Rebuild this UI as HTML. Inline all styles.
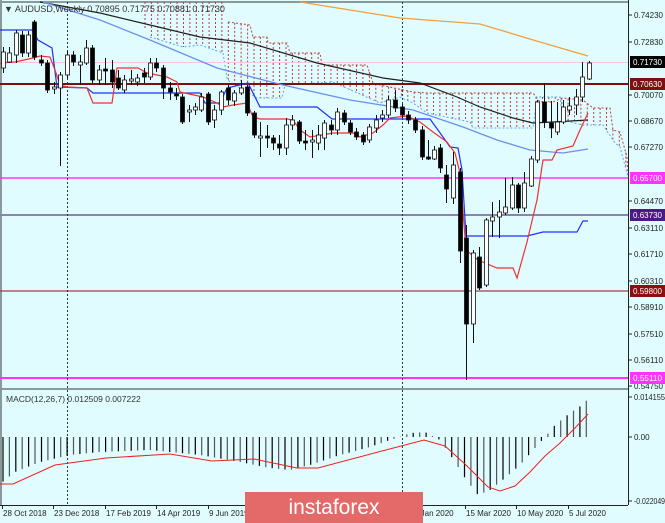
<!DOCTYPE html>
<html><head><meta charset="utf-8"><style>
html,body{margin:0;padding:0;background:#e1fcfe;}
body{width:665px;height:523px;overflow:hidden;position:relative;font-family:"Liberation Sans",sans-serif;}
svg{position:absolute;left:0;top:0;}
</style></head><body>
<svg id="s" width="665" height="523" xmlns="http://www.w3.org/2000/svg" font-family="Liberation Sans, sans-serif">
<rect width="665" height="523" fill="#e1fcfe"/>
<g id="g"></g>
</svg>
<script>
var NS="http://www.w3.org/2000/svg",G=document.getElementById("g");
function el(t,a,txt){var e=document.createElementNS(NS,t);for(var k in a)e.setAttribute(k,a[k]);if(txt!=null)e.textContent=txt;G.appendChild(e);return e;}
function pl(pts,c,w,d){var a={points:pts.map(function(p){return p.join(",")}).join(" "),fill:"none",stroke:c,"stroke-width":w||1};if(d)a["stroke-dasharray"]=d;return el("polyline",a);}
function interp(pts,x){if(x<=pts[0][0])return pts[0][1];for(var i=1;i<pts.length;i++){if(x<=pts[i][0]){var a=pts[i-1],b=pts[i];return a[1]+(b[1]-a[1])*(x-a[0])/(b[0]-a[0]);}}return pts[pts.length-1][1];}
el("line",{x1:0,y1:2,x2:628,y2:2,stroke:"#8a9a9a","stroke-width":2});
el("line",{x1:1,y1:0,x2:1,y2:505,stroke:"#8a9a9a","stroke-width":2});
el("line",{x1:628.5,y1:0,x2:628.5,y2:505,stroke:"#222"});
el("line",{x1:0,y1:389,x2:628,y2:389,stroke:"#8a9a9a","stroke-width":2});
el("line",{x1:0,y1:505.5,x2:628,y2:505.5,stroke:"#222"});
var spanB=[[0,-5],[225,-5],[228,22],[250,25],[253,37],[267,37],[268,43],[287,43],[290,53],[320,53],[322,65],[367,65],[373,83],[380,85],[413,92],[427,93],[533,93],[540,102],[553,102],[562,98],[583,100],[593,108],[610,108],[613,130],[620,132],[627,157],[628,175]];
var spanA=[[120,-5],[150,37],[183,47],[200,45],[223,53],[227,78],[230,82],[257,98],[282,98],[285,85],[333,82],[380,103],[400,97],[413,103],[427,113],[470,122],[473,128],[533,128],[537,97],[560,97],[563,120],[582,125],[603,125],[615,143],[620,147],[627,173],[628,178]];
for(var x=145;x<628;x+=6.41){var a=interp(spanA,x),b=interp(spanB,x);var t=Math.max(2,Math.min(a,b)),bt=Math.max(a,b);if(bt>t+2)el("line",{x1:x.toFixed(1),y1:t,x2:x.toFixed(1),y2:bt,stroke:"#b84040","stroke-width":1,"stroke-dasharray":"2,2"});}
pl(spanB.filter(function(p){return p[1]>2}),"#b84040",1,"2,2");
pl(spanA.filter(function(p){return p[1]>2}),"#5aa7f0",1,"2,2");
el("line",{x1:0,y1:62.5,x2:628,y2:62.5,stroke:"#f4c8d8","stroke-width":1});
el("line",{x1:0,y1:84,x2:628,y2:84,stroke:"#7a1010","stroke-width":2});
el("line",{x1:0,y1:178,x2:628,y2:178,stroke:"#ff33ff","stroke-width":1.5});
el("line",{x1:0,y1:215,x2:628,y2:215,stroke:"#9080b0","stroke-width":2});
el("line",{x1:0,y1:291,x2:628,y2:291,stroke:"#a04040","stroke-width":1.2});
el("line",{x1:0,y1:378,x2:628,y2:378,stroke:"#ff33ff","stroke-width":2});
[67,402].forEach(function(x){el("line",{x1:x+.5,y1:2,x2:x+.5,y2:505,stroke:"#333","stroke-dasharray":"2,2"});});
pl([[300,2],[350,10],[400,18],[480,24],[540,42],[588,56]],"#f0a040",1.3);
pl([[40,2],[100,13],[150,25],[200,37],[250,43],[317,63],[383,78],[420,83],[457,97],[480,107],[513,118],[533,123],[553,122],[588,120]],"#202020",1.2);
pl([[43,2],[100,20],[150,40],[217,68],[283,85],[350,100],[400,108],[413,110],[463,127],[497,140],[530,150],[563,153],[588,149]],"#6a8ff0",1.3);
pl([[0,30],[32,30],[38,40],[52,48],[57,87],[87,88],[93,93],[200,93],[205,103],[220,103],[227,88],[248,83],[260,107],[317,107],[332,119],[430,119],[443,137],[450,147],[458,148],[462,170],[466,236],[527,236],[543,232],[577,232],[583,221],[588,221]],"#2030ff",1.2);
pl([[0,63],[15,62],[33,58],[40,56],[50,57],[55,70],[60,85],[67,87],[87,88],[93,103],[112,103],[117,68],[138,68],[147,73],[167,77],[177,82],[180,92],[203,97],[217,103],[223,107],[233,105],[247,103],[253,117],[260,119],[287,119],[293,120],[300,130],[310,137],[333,133],[353,133],[360,137],[373,133],[383,125],[390,118],[407,116],[420,122],[433,132],[447,142],[455,153],[460,173],[466,250],[478,260],[497,268],[513,268],[517,278],[527,242],[537,200],[543,160],[552,160],[557,150],[573,146],[580,130],[588,113]],"#f03030",1.2);
var C=[[3,52,68,47,73,0],[9,53,62,47,63,0],[16,33,55,30,63,0],[22,35,53,31,57,1],[28,35,53,31,57,0],[34,22,57,20,60,1],[41,60,63,55,66,1],[47,63,90,60,93,1],[54,87,89,82,94,0],[60,75,88,72,166,0],[67,55,75,51,78,0],[73,55,62,51,66,1],[80,62,65,55,85,0],[86,48,63,40,65,0],[92,48,80,45,83,1],[99,70,80,65,85,0],[105,69,71,58,85,1],[112,70,82,60,88,1],[118,78,88,70,90,1],[124,80,90,75,93,0],[131,79,81,70,85,0],[137,78,82,74,86,0],[144,73,77,68,83,1],[150,63,77,58,80,0],[156,63,68,58,72,1],[163,68,88,65,99,1],[170,88,92,82,100,1],[176,94,96,88,100,1],[182,97,122,94,124,1],[189,110,112,105,122,0],[195,107,110,103,115,0],[201,97,110,93,112,0],[208,94,122,92,125,1],[214,110,120,105,128,0],[221,92,110,90,115,0],[228,88,100,85,105,1],[234,93,101,90,106,0],[241,88,93,80,95,0],[247,87,113,85,116,1],[254,113,135,111,138,1],[260,136,138,122,157,0],[267,136,138,125,148,1],[273,138,143,135,150,1],[279,144,148,135,155,1],[286,125,148,118,155,0],[292,120,125,115,130,0],[299,122,141,120,144,1],[305,141,143,130,150,1],[312,140,142,130,158,0],[318,135,143,125,150,0],[324,123,138,120,150,0],[331,125,130,120,135,1],[337,112,130,108,135,0],[344,113,122,110,125,1],[350,123,132,120,135,1],[356,132,137,128,140,1],[363,135,142,132,145,1],[369,127,140,124,143,0],[376,120,128,115,133,0],[382,115,118,110,122,0],[388,100,115,96,118,0],[395,100,108,90,112,1],[402,107,115,104,118,1],[408,115,120,111,124,1],[415,120,130,117,133,1],[422,130,157,126,160,1],[428,157,159,140,160,1],[434,150,159,146,160,0],[440,148,168,144,173,1],[446,175,189,165,203,1],[453,165,198,152,204,0],[460,172,251,168,263,1],[466,238,324,225,380,1],[473,253,324,250,343,0],[479,257,288,247,290,1],[486,220,285,218,287,0],[492,217,221,202,237,0],[499,212,217,200,238,0],[505,207,213,178,215,0],[512,185,208,177,210,0],[518,185,208,183,213,1],[524,183,208,172,212,0],[531,159,186,156,187,0],[537,102,160,100,163,0],[544,102,122,83,128,1],[551,123,128,101,138,1],[557,122,132,102,135,0],[563,107,122,100,124,0],[569,106,110,97,115,0],[576,97,105,89,115,0],[582,77,97,62,102,0],[589,63,79,61,80,0]];
C.forEach(function(c){var x=c[0];el("line",{x1:x+.5,y1:c[3],x2:x+.5,y2:c[4],stroke:"#111","stroke-width":1});
el("rect",{x:x-1.5,y:c[1],width:4,height:Math.max(1,c[2]-c[1]),fill:c[5]?"#000":"#fff",stroke:"#111","stroke-width":0.8});});
var H=[[0,484],[15,472],[40,462],[70,455],[100,452],[150,450],[200,455],[240,462],[270,468],[290,470],[310,465],[340,455],[370,447],[390,440],[400,437],[410,433],[425,432],[440,440],[455,462],[465,478],[478,495],[490,490],[505,478],[520,465],[535,448],[545,437],[555,425],[570,413],[582,405],[589,398]];
var i=0;for(var x=3;x<=590;x+=6.41){var y=interp(H,x);el("line",{x1:x.toFixed(1),y1:437,x2:x.toFixed(1),y2:y.toFixed(1),stroke:(i%2?"#555":"#000"),"stroke-width":1.2});i++;}
pl([[0,484],[13,484],[55,465],[106,458],[170,454],[212,461],[254,459],[297,468],[318,468],[382,451],[424,440],[445,446],[466,465],[488,487],[500,491],[515,486],[530,472],[545,456],[560,443],[575,428],[588,414]],"#f02020",1);
var L=[[15,"0.74230"],[42,"0.72830"],[95,"0.70070"],[121,"0.68670"],[147,"0.67270"],[201,"0.64470"],[228,"0.63110"],[254,"0.61710"],[281,"0.60310"],[307,"0.58910"],[334,"0.57510"],[360,"0.56110"],[386,"0.54750"],[397,"0.014155"],[437,"0.00"],[501,"-0.022049"]];
L.forEach(function(l){el("line",{x1:628,y1:l[0],x2:632,y2:l[0],stroke:"#222"});var a={x:634,y:l[0]+3,"font-size":"8",fill:"#222"};if(l[1].length>=7)a.textLength=(l[1].length>7?31:29),a.lengthAdjust="spacingAndGlyphs";el("text",a,l[1]);});
var B=[[62,"0.71730","#000"],[84,"0.70630","#7a1010"],[178,"0.65700","#ff33ff"],[215,"0.63730","#4a1a80"],[291,"0.59800","#8a1010"],[378,"0.55110","#ff33ff"]];
B.forEach(function(b){el("rect",{x:630,y:b[0]-6,width:35,height:12,fill:b[2]});el("text",{x:633,y:b[0]+3,"font-size":"8",fill:"#fff",textLength:29,lengthAdjust:"spacingAndGlyphs"},b[1]);});
var D=[[2,"28 Oct 2018"],[53,"23 Dec 2018"],[105,"17 Feb 2019"],[156,"14 Apr 2019"],[208,"9 Jun 2019"],[413,"5 Jan 2020"],[465,"15 Mar 2020"],[516,"10 May 2020"],[568,"5 Jul 2020"]];
D.forEach(function(d){el("line",{x1:d[0]+.5,y1:505,x2:d[0]+.5,y2:509,stroke:"#222"});el("text",{x:d[0]+1,y:516,"font-size":"8",fill:"#222"},d[1]);});
el("text",{x:4,y:12,"font-size":"9",fill:"#333"},"\u25BC AUDUSD,Weekly  0.70895 0.71775 0.70881 0.71730");
el("text",{x:6,y:402,"font-size":"8.5",fill:"#333"},"MACD(12,26,7) 0.012509 0.007222");
el("rect",{x:245,y:492,width:178,height:31,fill:"#e46a6a"});
el("text",{x:334,y:514,"font-size":"21","text-anchor":"middle",fill:"#fff"},"instaforex");
</script>
</body></html>
